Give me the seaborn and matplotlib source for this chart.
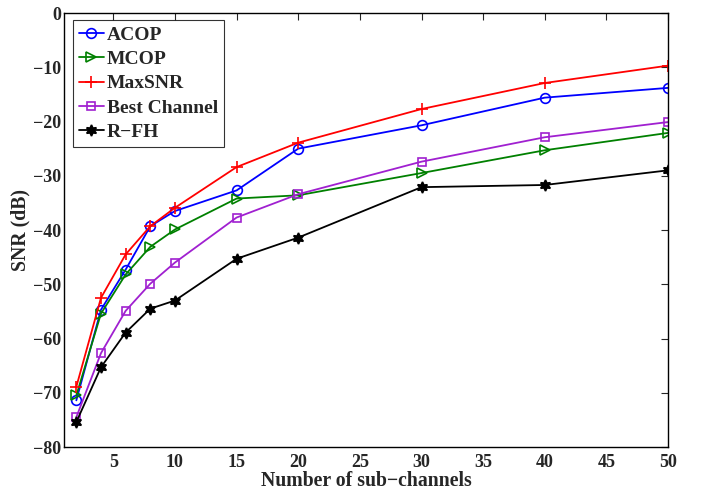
import matplotlib
matplotlib.use("Agg")
import matplotlib.pyplot as plt
import seaborn as sns
import pandas as pd

x_vals = [2, 4, 6, 8, 10, 15, 20, 30, 40, 50]
acop = [-71.4, -54.7, -47.3, -39.3, -36.5, -32.7, -25.0, -20.7, -15.6, -13.8]
mcop = [-70.5, -55.4, -48.2, -43.1, -39.9, -34.2, -33.6, -29.5, -25.3, -22.1]
maxsnr = [-68.9, -52.5, -44.5, -39.3, -35.9, -28.4, -23.9, -17.7, -12.9, -9.7]
best_channel = [-74.5, -62.7, -54.9, -49.9, -46.0, -37.7, -33.4, -27.4, -22.9, -20.1]
rfh = [-75.4, -65.3, -58.9, -54.5, -53.0, -45.3, -41.4, -32.1, -31.7, -29.0]

series_names = ["ACOP", "MCOP", "MaxSNR", "Best Channel", "R\u2212FH"]
series_vals = [acop, mcop, maxsnr, best_channel, rfh]
colors = ["#0000FF", "#008000", "#FF0000", "#A020D0", "#000000"]
markers = ["o", ">", "+", "s", (6, 1, 0)]
msizes = [7, 7, 8, 6, 8]

x_ticks = [5, 10, 15, 20, 25, 30, 35, 40, 45, 50]
y_ticks = [0, -10, -20, -30, -40, -50, -60, -70, -80]

sns.set_style("white")
plt.rcParams["font.family"] = ["Liberation Serif", "DejaVu Serif"]
plt.rcParams["font.weight"] = "bold"

fig = plt.figure(figsize=(7.01, 4.91), dpi=100)
ax = fig.add_axes([0.0913, 0.0896, 0.953 - 0.0913, 0.9735 - 0.0896])

rows = []
for name, vals in zip(series_names, series_vals):
    for xv, yv in zip(x_vals, vals):
        rows.append({"x": xv, "y": yv, "series": name})
df = pd.DataFrame(rows)

for name, col, mk, ms in zip(series_names, colors, markers, msizes):
    sub = df[df["series"] == name]
    filled = name == "R\u2212FH"
    sns.lineplot(data=sub, x="x", y="y", ax=ax, color=col, marker=mk,
                 markersize=ms, markerfacecolor=(col if filled else "none"),
                 markeredgecolor=col, markeredgewidth=1.2, linewidth=1.3,
                 label=name, sort=False)

ax.set_xlim(1, 50)
ax.set_ylim(-80, 0)
ax.set_xticks(x_ticks)
ax.set_yticks(y_ticks)
ax.tick_params(direction="in", length=5, width=0.8, top=True, right=True,
               labelsize=13)
ax.tick_params(axis="x", pad=5)
ax.tick_params(axis="y", pad=2)
for lab in ax.get_xticklabels() + ax.get_yticklabels():
    lab.set_fontweight("bold")
for sp in ax.spines.values():
    sp.set_linewidth(1.0)
    sp.set_color("black")

ax.set_xlabel("Number of sub\u2212channels", fontsize=14.2, fontweight="bold", labelpad=0)
ax.set_ylabel("SNR (dB)", fontsize=14.2, fontweight="bold", labelpad=2)

leg = ax.legend(loc="upper left", bbox_to_anchor=(0.0145, 0.983), fontsize=14,
                frameon=True, fancybox=False, handlelength=1.3,
                handletextpad=0.15, borderpad=0.3, labelspacing=0.345,
                borderaxespad=0.0)
leg.get_frame().set_edgecolor("black")
leg.get_frame().set_linewidth(0.8)
for t in leg.get_texts():
    t.set_fontweight("bold")

fig.savefig("out.png", dpi=100)
